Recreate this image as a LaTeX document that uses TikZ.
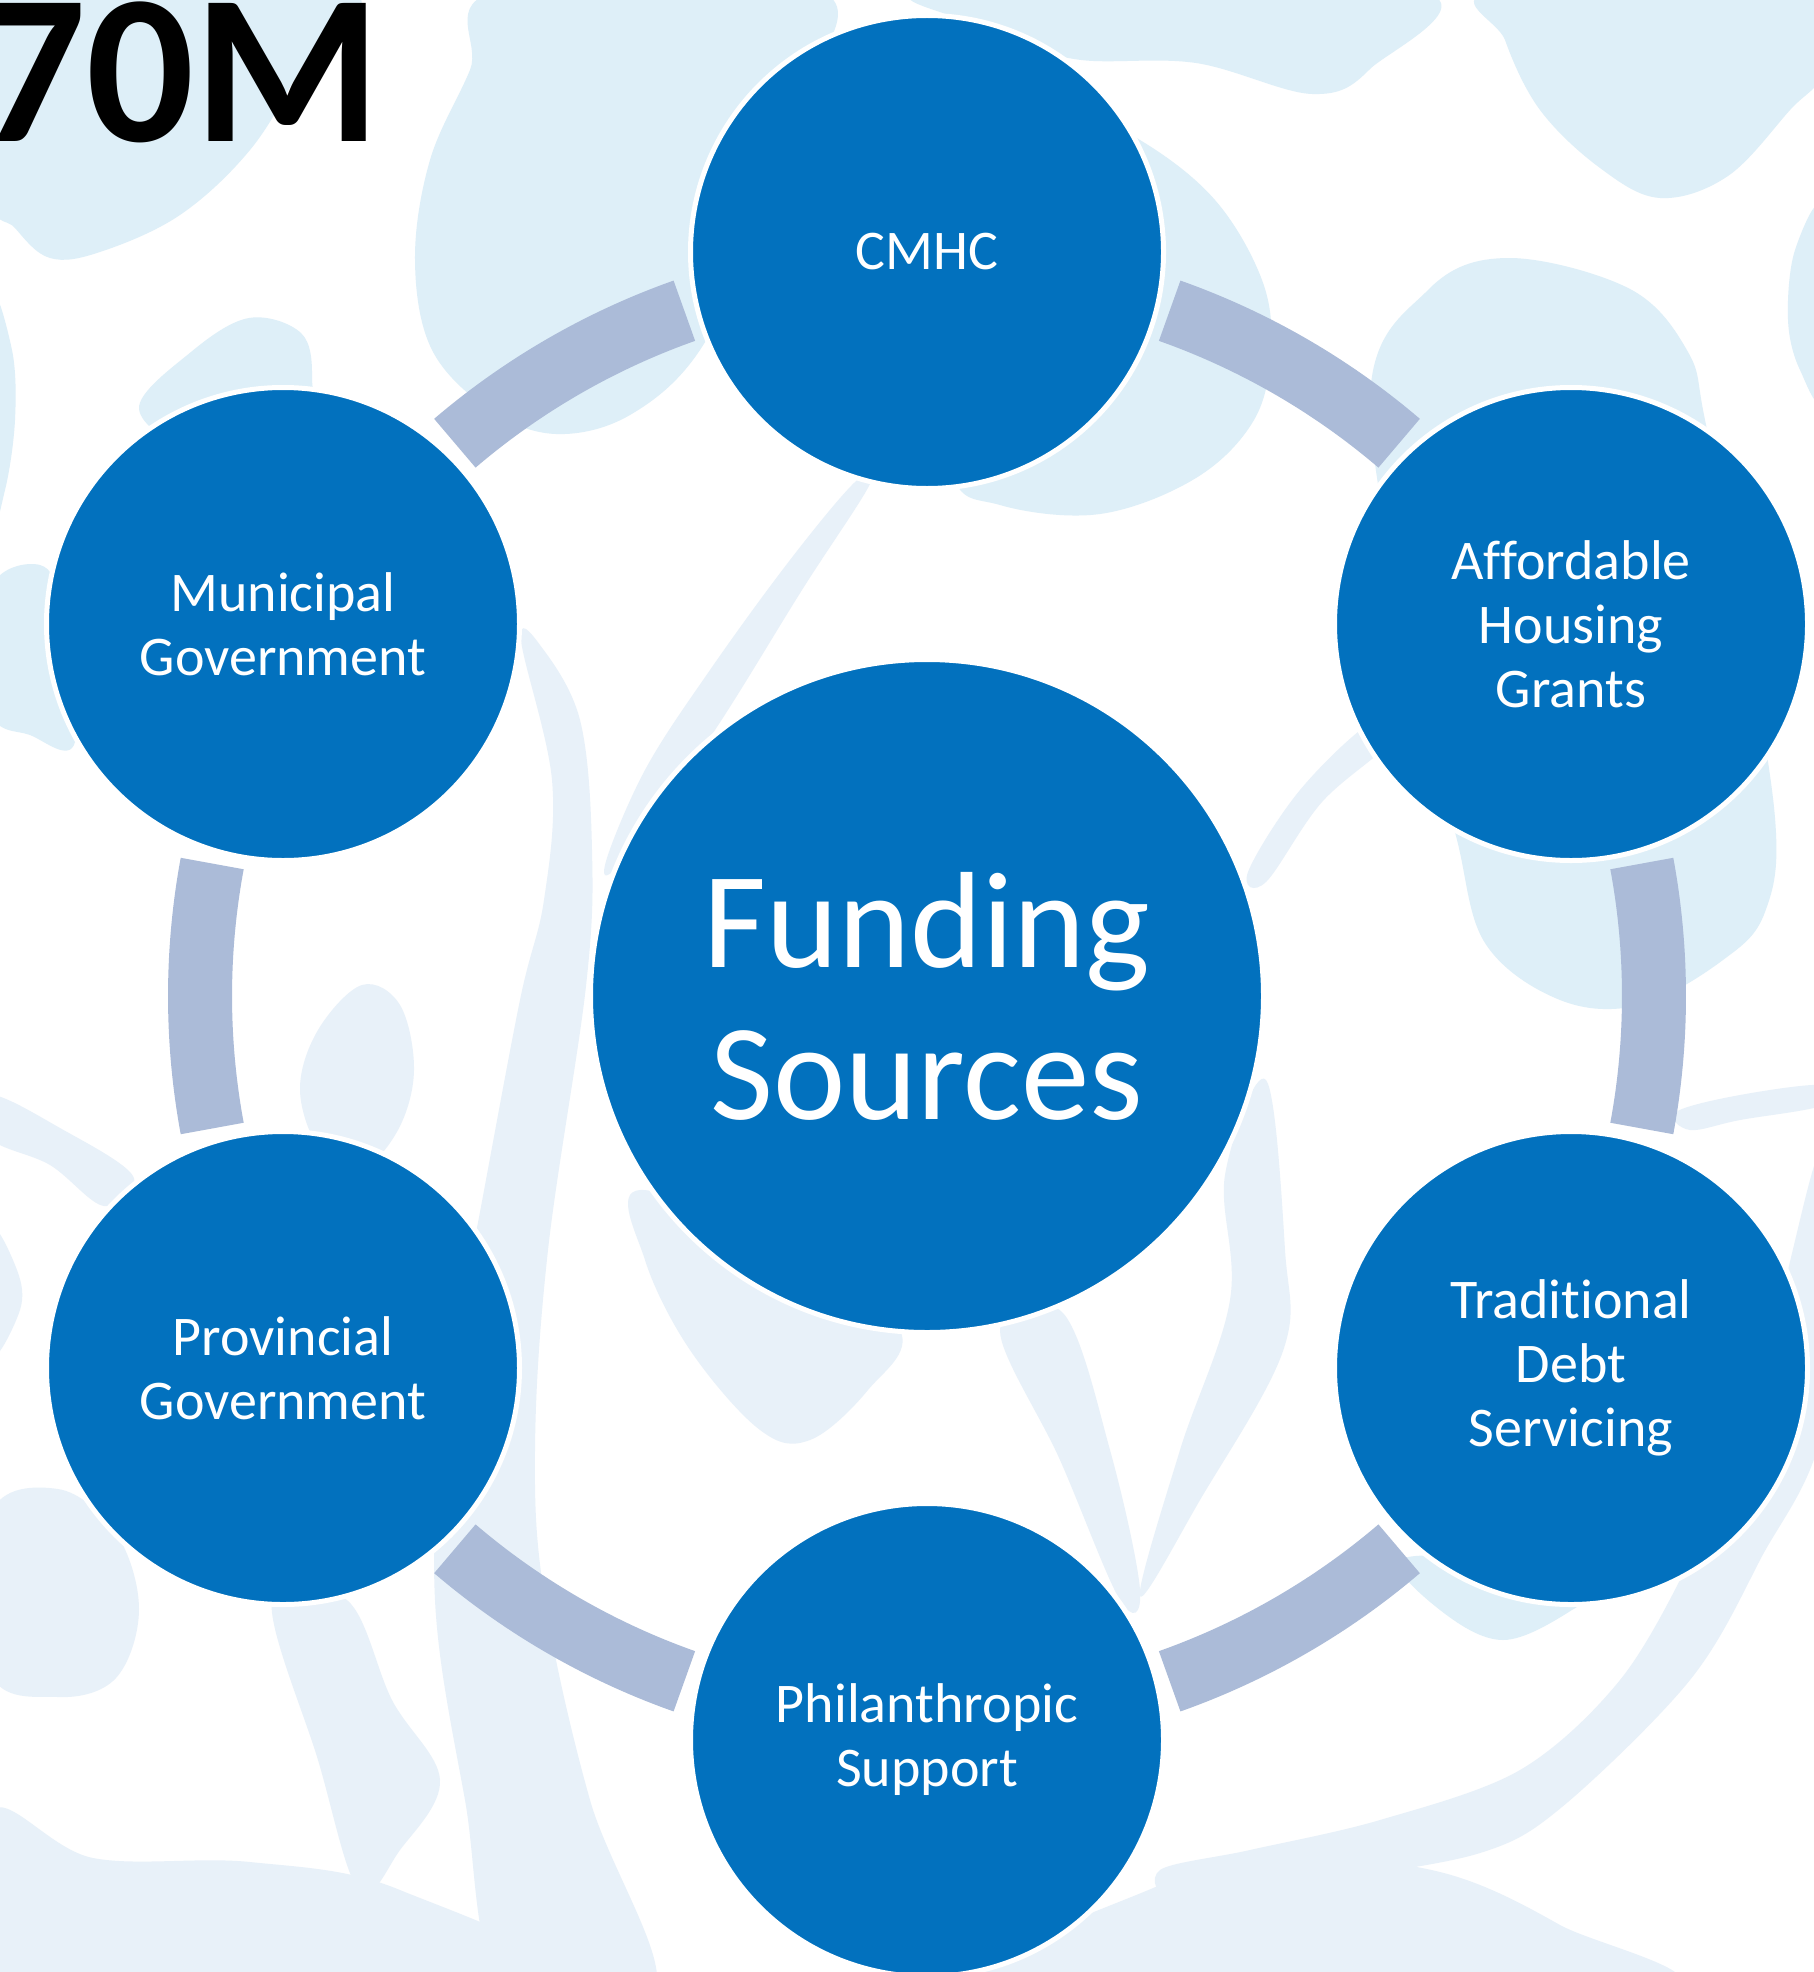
\documentclass[tikz,border=0pt]{standalone}
\usepackage{fontspec}
\setmainfont{Carlito}[Ligatures={NoCommon,NoRare},Contextuals=NoAlternate,RawFeature={-liga;-clig;-dlig;-calt}]
\usetikzlibrary{calc}
\definecolor{nodeblue}{RGB}{2,113,190}
\definecolor{ringblue}{RGB}{171,187,216}
\definecolor{blobcolA}{RGB}{222,239,248}
\definecolor{blobcolB}{RGB}{232,241,249}
\begin{document}
\begin{tikzpicture}[x=1pt,y=-1pt,
  hubnode/.style={circle,fill=nodeblue,draw=white,line width=5pt,minimum size=673pt,inner sep=0pt,text=white,align=center,font=\fontsize{137}{152}\selectfont},
  spoke/.style={circle,fill=nodeblue,draw=white,line width=5pt,minimum size=473pt,inner sep=0pt,text=white,align=center,font=\fontsize{56}{64}\selectfont},
  ringseg/.style={draw=ringblue,line width=64pt},
  blobA/.style={fill=blobcolA},
  blobB/.style={fill=blobcolB},
  titletext/.style={anchor=base west,inner sep=0pt,font=\bfseries\fontsize{213}{213}\selectfont}]
\useasboundingbox (0,0) rectangle (1814,1972);
\fill[white] (0,0) rectangle (1814,1972);
\begin{scope}
\clip (0,0) rectangle (1814,1972);
% light swooshes (lower, greyer)
\fill[blobB] plot[smooth cycle,tension=0.6] coordinates {(521,640) (552,780) (544,900) (520,1000) (480,1212) (445,1400) (435,1600) (465,1800) (505,1990) (655,1990) (590,1800) (545,1600) (535,1450) (548,1250) (586,986) (592,850) (580,720) (540,645)};
\fill[blobB] plot[smooth cycle,tension=0.6] coordinates {(272,1600) (347,1600) (392,1700) (440,1780) (400,1850) (359,1890) (318,1760)};
\fill[blobB] plot[smooth cycle,tension=0.6] coordinates {(-10,1095) (60,1128) (133,1176) (104,1206) (50,1165) (-10,1138)};
\fill[blobB] plot[smooth cycle,tension=0.6] coordinates {(-10,1812) (93,1858) (250,1862) (400,1890) (560,1990) (-10,1990)};
\fill[blobB] plot[smooth cycle,tension=0.6] coordinates {(855,482) (790,560) (710,670) (645,770) (605,865) (625,858) (715,730) (802,590) (870,484)};
\fill[blobB] plot[smooth cycle,tension=0.6] coordinates {(1372,722) (1300,790) (1248,872) (1266,882) (1322,802) (1392,740)};
\fill[blobB] plot[smooth cycle,tension=0.6] coordinates {(1000,1330) (1063,1313) (1110,1450) (1140,1590) (1120,1600) (1060,1460)};
\fill[blobB] plot[smooth cycle,tension=0.6] coordinates {(1225,1175) (1266,1080) (1285,1250) (1283,1351) (1200,1500) (1140,1596) (1180,1450) (1230,1300)};
\fill[blobB] plot[smooth cycle,tension=0.6] coordinates {(1676,1112) (1740,1095) (1824,1085) (1824,1105) (1740,1120) (1690,1130)};
\fill[blobB] plot[smooth cycle,tension=0.55] coordinates {(1824,1150) (1780,1300) (1735,1450) (1690,1560) (1620,1680) (1520,1770) (1380,1820) (1250,1850) (1160,1870) (1180,1900) (1330,1880) (1480,1853) (1562,1807) (1690,1680) (1760,1560) (1824,1420)};
\fill[blobB] plot[smooth cycle,tension=0.6] coordinates {(1000,1990) (1160,1885) (1290,1858) (1440,1872) (1560,1925) (1650,1990)};
% blobs (upper, bluer)
\fill[blobA] plot[smooth cycle,tension=0.6] coordinates {(-10,-10) (345,-10) (300,70) (250,150) (180,215) (100,252) (50,258) (15,228) (-10,190)};
\fill[blobA] plot[smooth cycle,tension=0.6] coordinates {(500,-10) (470,70) (430,160) (415,260) (432,350) (490,410) (556,434) (630,415) (700,350) (760,220) (800,100) (818,-10)};
\fill[blobA] plot[smooth cycle,tension=0.6] coordinates {(940,-10) (1416,-10) (1370,69) (1312,94) (1196,63) (1081,60) (1010,40) (960,20)};
\fill[blobA] plot[smooth cycle,tension=0.6] coordinates {(1050,100) (1140,140) (1215,200) (1262,280) (1271,350) (1254,420) (1196,478) (1100,514) (1000,505) (950,470) (930,300)};
\fill[blobA] plot[smooth cycle,tension=0.6] coordinates {(1497,-10) (1505,40) (1540,110) (1600,168) (1660,198) (1728,176) (1790,110) (1824,70) (1824,-10)};
\fill[blobA] plot[smooth cycle,tension=0.6] coordinates {(1824,210) (1795,250) (1788,320) (1800,370) (1824,395)};
\fill[blobA] plot[smooth cycle,tension=0.6] coordinates {(1370,400) (1428,290) (1509,258) (1630,289) (1688,352) (1705,420) (1740,600) (1775,818) (1765,912) (1723,960) (1640,1005) (1560,1000) (1485,943) (1456,836) (1420,700)};
\fill[blobA] plot[smooth cycle,tension=0.6] coordinates {(-10,300) (12,350) (15,420) (5,490) (-10,520)};
\fill[blobA] plot[smooth cycle,tension=0.6] coordinates {(-10,590) (40,565) (62,610) (75,742) (30,735) (-10,710)};
\fill[blobA] plot[smooth cycle,tension=0.6] coordinates {(139,409) (191,352) (249,318) (301,333) (312,377) (300,420) (200,450)};
\fill[blobB] plot[smooth cycle,tension=0.6] coordinates {(300,1090) (318,1030) (362,985) (400,1005) (414,1070) (398,1130) (360,1170) (320,1150)};
\fill[blobB] plot[smooth cycle,tension=0.6] coordinates {(-10,1515) (58,1489) (116,1533) (139,1609) (116,1678) (58,1697) (-10,1672)};
\fill[blobB] plot[smooth cycle,tension=0.6] coordinates {(-10,1230) (17,1270) (20,1310) (-10,1355)};
\fill[blobA] plot[smooth cycle,tension=0.6] coordinates {(1400,1560) (1440,1610) (1503,1640) (1572,1610) (1600,1580) (1500,1560)};
\fill[blobB] plot[smooth cycle,tension=0.6] coordinates {(640,1190) (645,1260) (690,1350) (760,1430) (810,1440) (868,1390) (900,1330) (800,1250)};
\end{scope}
% title
\node[titletext] (title) at (-22,142) {70M};
% nodes
\node[hubnode] (hub) at (927,996) {Funding\\Sources};
% ring connectors between neighbouring nodes
\foreach \a/\b in {-90/-30,-30/30,30/90,90/150,150/210,210/270}
  \draw[ringseg] ($(hub.center)+({\a+19.5}:727)$) arc[start angle=\a+19.5, end angle=\b-19.5, radius=727];
\node[spoke] (cmhc) at (927,252) {CMHC};
\node[spoke] (afford) at (1571,624) {Affordable\\Housing\\Grants};
\node[spoke] (trad) at (1571,1368) {Tradit\kern0pt ional\\Debt\\Servicing};
\node[spoke] (phil) at (927,1740) {Philanthropic\\Support};
\node[spoke] (prov) at (283,1368) {Provincial\\Government};
\node[spoke] (muni) at (283,624) {Municipal\\Government};
\end{tikzpicture}
\end{document}
